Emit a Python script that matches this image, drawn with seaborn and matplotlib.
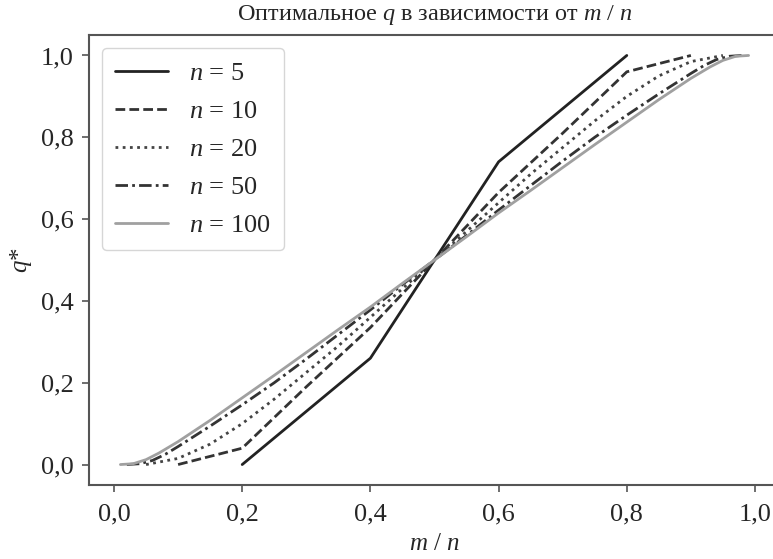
#!/usr/bin/env python3
"""Optimal q as a function of m / n for several n."""
import matplotlib

matplotlib.use("Agg")
import matplotlib.pyplot as plt
import seaborn as sns

# ---- data ----
x_n5 = [0.2, 0.4, 0.6, 0.8]
q_n5 = [0.0, 0.26, 0.74, 1.0]

x_n10 = [0.1, 0.2, 0.3, 0.4, 0.5, 0.6, 0.7, 0.8, 0.9]
q_n10 = [0.0, 0.04, 0.19, 0.335, 0.5, 0.665, 0.81, 0.96, 1.0]

x_n20 = [0.05, 0.1, 0.15, 0.2, 0.25, 0.3, 0.35, 0.4, 0.45, 0.5,
         0.55, 0.6, 0.65, 0.7, 0.75, 0.8, 0.85, 0.9, 0.95]
q_n20 = [0.0, 0.015, 0.05, 0.1, 0.16, 0.225, 0.29, 0.36, 0.43, 0.5,
         0.57, 0.64, 0.71, 0.775, 0.84, 0.9, 0.95, 0.985, 1.0]

x_n50 = [0.02, 0.04, 0.06, 0.08, 0.1, 0.15, 0.2, 0.25, 0.3, 0.35, 0.4, 0.45, 0.5,
         0.55, 0.6, 0.65, 0.7, 0.75, 0.8, 0.85, 0.9, 0.92, 0.94, 0.96, 0.98]
q_n50 = [0.0, 0.002, 0.01, 0.025, 0.044, 0.094, 0.146, 0.2, 0.258, 0.318, 0.378, 0.44, 0.5,
         0.56, 0.622, 0.682, 0.742, 0.8, 0.854, 0.906, 0.956, 0.975, 0.99, 0.998, 1.0]

x_n100 = [0.01, 0.03, 0.05, 0.07, 0.1, 0.15, 0.2, 0.25, 0.3, 0.35, 0.4, 0.45, 0.5,
          0.55, 0.6, 0.65, 0.7, 0.75, 0.8, 0.85, 0.9, 0.93, 0.95, 0.97, 0.99]
q_n100 = [0.0, 0.002, 0.012, 0.028, 0.056, 0.108, 0.163, 0.218, 0.274, 0.33, 0.385, 0.443, 0.5,
          0.557, 0.615, 0.67, 0.726, 0.782, 0.837, 0.892, 0.944, 0.972, 0.988, 0.998, 1.0]

series_labels = ["$n$ = 5", "$n$ = 10", "$n$ = 20", "$n$ = 50", "$n$ = 100"]

x_ticks = [0.0, 0.2, 0.4, 0.6, 0.8, 1.0]
x_tick_labels = ["0,0", "0,2", "0,4", "0,6", "0,8", "1,0"]
y_ticks = [0.0, 0.2, 0.4, 0.6, 0.8, 1.0]
y_tick_labels = ["0,0", "0,2", "0,4", "0,6", "0,8", "1,0"]

title = "Оптимальное $q$ в зависимости от $m$ / $n$"
xlabel = "$m$ / $n$"
ylabel = "$q$*"

# ---- style ----
sns.set_style("ticks")
plt.rcParams["font.family"] = ["Liberation Serif", "DejaVu Serif"]
plt.rcParams["mathtext.fontset"] = "custom"
plt.rcParams["mathtext.rm"] = "Liberation Serif"
plt.rcParams["mathtext.it"] = "Liberation Serif:italic"

styles = [
    dict(color="#222222", linestyle="-"),
    dict(color="#333333", linestyle=(0, (3.5, 1.5))),
    dict(color="#444444", linestyle=(0, (1, 1.6))),
    dict(color="#333333", linestyle=(0, (4.5, 1.5, 1, 1.5))),
    dict(color="#a0a0a0", linestyle="-"),
]
xs = [x_n5, x_n10, x_n20, x_n50, x_n100]
qs = [q_n5, q_n10, q_n20, q_n50, q_n100]

fig = plt.figure(figsize=(7.73, 5.59), dpi=100)
ax = fig.add_axes([89 / 773, 74 / 559, 691 / 773, 450 / 559])

for x, q, lab, st in zip(xs, qs, series_labels, styles):
    sns.lineplot(x=x, y=q, ax=ax, label=lab, linewidth=2.0, **st)

ax.set_xticks(x_ticks)
ax.set_xticklabels(x_tick_labels)
ax.set_yticks(y_ticks)
ax.set_yticklabels(y_tick_labels)
ax.tick_params(labelsize=19, length=5, width=1.2, color="#555555")
ax.tick_params(axis="x", pad=8)
ax.tick_params(axis="y", pad=6)

ax.set_title(title, fontsize=17.5, pad=11)
ax.set_xlabel(xlabel, fontsize=18, labelpad=6)
ax.set_ylabel(ylabel, fontsize=18, labelpad=5)

for side in ["left", "bottom", "top"]:
    ax.spines[side].set_visible(True)
    ax.spines[side].set_color("#555555")
    ax.spines[side].set_linewidth(1.5)
ax.spines["right"].set_visible(False)

leg = ax.legend(loc="upper left", fontsize=19, frameon=True, fancybox=True,
                handlelength=2.0, borderpad=0.5, labelspacing=0.55,
                handletextpad=0.8)
leg.get_frame().set_edgecolor("#cccccc")

fig.savefig("out.png", dpi=100)
